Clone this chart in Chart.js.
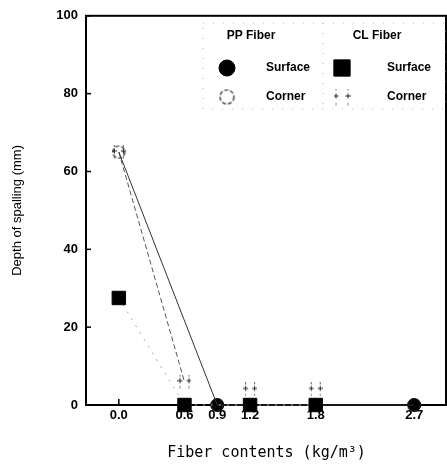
<!DOCTYPE html>
<html>
<head>
<meta charset="utf-8">
<script src="https://cdn.jsdelivr.net/npm/chart.js@4.4.0/dist/chart.umd.min.js"></script>
<style>
  html, body { margin: 0; padding: 0; background: #fff; overflow: hidden; }
  canvas { display: block; }
</style>
</head>
<body>
<canvas id="spallChart" width="447" height="465"></canvas>
<script>
// données (kg/m3 -> mm)
const xTicks = [0.0, 0.6, 0.9, 1.2, 1.8, 2.7];
const yTicks = [0, 20, 40, 60, 80, 100];

const ppSurfaceX = [0.9, 2.7];
const ppSurfaceY = [0, 0];
const ppCornerX = [0.0, 0.9, 2.7];
const ppCornerY = [65, 0, 0];
const clSurfaceX = [0.0, 0.6, 1.2, 1.8];
const clSurfaceY = [27.5, 0, 0, 0];
const clCornerX = [0.0, 0.6, 1.2, 1.8];
const clCornerY = [65, 6, 4, 4];

const toPoints = (xs, ys) => xs.map((x, i) => ({ x: x, y: ys[i] }));

// petits symboles "scannés" : cercle en tirets et croix
function makeDashedCircle(size) {
    const c = document.createElement('canvas');
    c.width = size; c.height = size;
    const g = c.getContext('2d');
    g.strokeStyle = '#222';
    g.lineWidth = 1.2;
    g.setLineDash([4, 2]);
    g.beginPath();
    g.arc(size / 2, size / 2, size / 2 - 1.5, 0, Math.PI * 2);
    g.stroke();
    return c;
}

function makeCrossMark(size) {
    const c = document.createElement('canvas');
    c.width = size; c.height = size;
    const g = c.getContext('2d');
    g.strokeStyle = '#222';
    g.lineWidth = 1;
    const l = 2.5, r = size - 2.5, m = size / 2 - 1;
    [l, r].forEach(cx => {
        g.beginPath();
        g.moveTo(cx - 2.5, m); g.lineTo(cx + 2.5, m);
        g.moveTo(cx, m - 2.5); g.lineTo(cx, m + 2.5);
        g.stroke();
        g.fillStyle = '#666';
        g.fillRect(cx - 0.5, 0, 1, 2);
        g.fillRect(cx - 0.5, size - 2.5, 1, 2);
    });
    return c;
}

const circleMark = makeDashedCircle(15);
const circleMarkBig = makeDashedCircle(17);
const crossMark = makeCrossMark(14);
const crossMarkBig = makeCrossMark(17);

// cadre + graduations intérieures
const framePlugin = {
    id: 'frame',
    beforeDatasetsDraw(chart) {
        const { ctx, chartArea: a, scales } = chart;
        ctx.save();
        ctx.strokeStyle = '#000';
        ctx.lineWidth = 2;
        ctx.strokeRect(a.left, a.top, a.right - a.left - 1, a.bottom - a.top);
        ctx.lineWidth = 1.5;
        yTicks.forEach(v => {
            const y = scales.y.getPixelForValue(v);
            ctx.beginPath(); ctx.moveTo(a.left, y); ctx.lineTo(a.left + 5, y); ctx.stroke();
        });
        xTicks.forEach(v => {
            const x = scales.x.getPixelForValue(v);
            ctx.beginPath(); ctx.moveTo(x, a.bottom); ctx.lineTo(x, a.bottom - 6); ctx.stroke();
        });
        ctx.restore();
    },
};

// légende en deux colonnes (PP / CL)
const fiberLegend = {
    id: 'fiberLegend',
    afterDraw(chart) {
        const { ctx } = chart;
        ctx.save();
        ctx.strokeStyle = '#bbb';
        ctx.lineWidth = 1;
        ctx.setLineDash([1, 9]);
        ctx.strokeRect(203, 23, 242, 86);
        ctx.beginPath(); ctx.moveTo(323, 23); ctx.lineTo(323, 109); ctx.stroke();
        ctx.setLineDash([]);

        ctx.fillStyle = '#000';
        ctx.font = 'bold 12px "Liberation Sans", Arial, sans-serif';
        ctx.textBaseline = 'middle';
        ctx.textAlign = 'center';
        ctx.fillText('PP Fiber', 251, 36);
        ctx.fillText('CL Fiber', 377, 36);
        ctx.textAlign = 'left';
        ctx.fillText('Surface', 266, 68);
        ctx.fillText('Corner', 266, 97);
        ctx.fillText('Surface', 387, 68);
        ctx.fillText('Corner', 387, 97);

        const h = Chart.helpers;
        ctx.fillStyle = '#000';
        ctx.strokeStyle = '#000';
        h.drawPoint(ctx, { pointStyle: 'circle', radius: 8, rotation: 0, borderWidth: 1 }, 227, 68);
        h.drawPoint(ctx, { pointStyle: 'rect', radius: 11.5, rotation: 0, borderWidth: 1 }, 342, 68);
        h.drawPoint(ctx, { pointStyle: circleMarkBig, radius: 8, rotation: 0, borderWidth: 0 }, 227, 97);
        h.drawPoint(ctx, { pointStyle: crossMarkBig, radius: 8, rotation: 0, borderWidth: 0 }, 342, 97);
        ctx.restore();
    },
};

const spallCanvas = document.querySelector('#spallChart');

if (spallCanvas && typeof Chart !== 'undefined') {
    const spallChart = new Chart(spallCanvas, {
        type: 'scatter',
        data: {
            datasets: [
                {
                    label: 'CL Fiber Surface',
                    data: toPoints(clSurfaceX, clSurfaceY),
                    showLine: true,
                    borderColor: '#aaa',
                    borderWidth: 1,
                    borderDash: [2, 6],
                    pointStyle: 'rect',
                    pointRadius: 9.5,
                    pointBackgroundColor: '#000',
                    pointBorderColor: '#000',
                    clip: false,
                },
                {
                    label: 'PP Fiber Corner',
                    data: toPoints(ppCornerX, ppCornerY),
                    showLine: true,
                    borderColor: '#333',
                    borderWidth: 1,
                    pointStyle: circleMark,
                    pointRadius: 7,
                    clip: false,
                },
                {
                    label: 'CL Fiber Corner',
                    data: toPoints(clCornerX, clCornerY),
                    showLine: true,
                    borderColor: '#555',
                    borderWidth: 1,
                    borderDash: [5, 3],
                    segment: {
                        borderColor: c => (c.p0.parsed.x >= 0.6 ? 'transparent' : '#555'),
                    },
                    pointStyle: crossMark,
                    pointRadius: 7,
                    clip: false,
                },
                {
                    label: 'PP Fiber Surface',
                    data: toPoints(ppSurfaceX, ppSurfaceY),
                    showLine: false,
                    pointStyle: 'circle',
                    pointRadius: 6.5,
                    pointBackgroundColor: '#000',
                    pointBorderColor: '#000',
                    clip: false,
                },
            ],
        },
        options: {
            responsive: false,
            animation: false,
            layout: { autoPadding: false, padding: { top: 15, right: 0, left: 0, bottom: 0 } },
            scales: {
                x: {
                    type: 'linear',
                    min: -0.3,
                    max: 3.0,
                    afterBuildTicks: s => { s.ticks = xTicks.map(v => ({ value: v })); },
                    afterFit: s => { s.height = 60; s.paddingLeft = 0; s.paddingRight = 0; },
                    grid: { display: false, drawTicks: false },
                    border: { display: false },
                    ticks: {
                        autoSkip: false,
                        maxRotation: 0,
                        padding: 3,
                        color: '#000',
                        font: { family: '"Liberation Sans", Arial, sans-serif', size: 13, weight: 'bold' },
                        callback: v => Number(v).toFixed(1),
                    },
                    title: {
                        display: true,
                        text: 'Fiber contents (kg/m³)',
                        color: '#000',
                        font: { family: '"DejaVu Sans Mono", monospace', size: 15 },
                        padding: { top: 0, bottom: 3 },
                    },
                },
                y: {
                    min: 0,
                    max: 100,
                    afterBuildTicks: s => { s.ticks = yTicks.map(v => ({ value: v })); },
                    afterFit: s => { s.width = 86; },
                    grid: { display: false, drawTicks: false },
                    border: { display: false },
                    ticks: {
                        padding: 8,
                        color: '#000',
                        font: { family: '"Liberation Sans", Arial, sans-serif', size: 13, weight: 'bold' },
                    },
                    title: {
                        display: true,
                        text: 'Depth of spalling (mm)',
                        color: '#000',
                        font: { family: '"Liberation Sans", Arial, sans-serif', size: 13 },
                        padding: { top: 10, bottom: 0 },
                    },
                },
            },
            plugins: {
                legend: { display: false },
                tooltip: { enabled: false },
            },
        },
        plugins: [framePlugin, fiberLegend],
    });
}
</script>
</body>
</html>
